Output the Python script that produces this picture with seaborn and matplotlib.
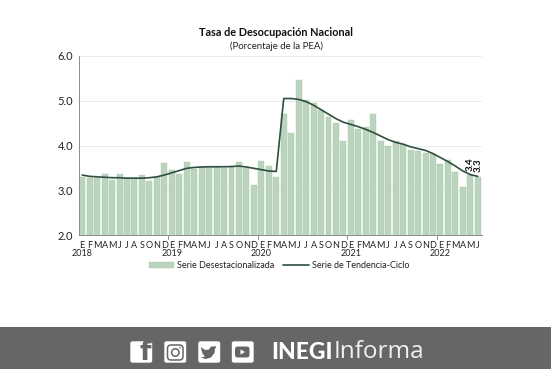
import pandas as pd
import matplotlib
matplotlib.use("Agg")
import matplotlib.pyplot as plt
import seaborn as sns
from matplotlib.patches import Rectangle, FancyBboxPatch, Circle, Polygon

# Values
meses = list("EFMAMJJASOND") * 4 + list("EFMAMJ")
anios = ["2018", "2019", "2020", "2021", "2022"]
serie_desest = [3.29, 3.27, 3.28, 3.37, 3.24, 3.36, 3.28, 3.28, 3.33, 3.20, 3.30, 3.60,
                3.46, 3.36, 3.63, 3.48, 3.52, 3.52, 3.52, 3.49, 3.53, 3.64, 3.50, 3.11,
                3.66, 3.55, 3.29, 4.70, 4.27, 5.46, 5.02, 4.94, 4.80, 4.63, 4.50, 4.10,
                4.57, 4.37, 4.41, 4.70, 4.10, 4.00, 4.09, 4.04, 3.91, 3.88, 3.83, 3.80,
                3.58, 3.68, 3.40, 3.07, 3.34, 3.30]
serie_tend = [3.34, 3.31, 3.30, 3.29, 3.28, 3.28, 3.27, 3.27, 3.27, 3.28, 3.30, 3.34,
              3.39, 3.44, 3.49, 3.51, 3.52, 3.525, 3.525, 3.525, 3.53, 3.54, 3.52, 3.49,
              3.46, 3.43, 3.42, 5.05, 5.05, 5.03, 4.98, 4.90, 4.80, 4.70, 4.60, 4.52,
              4.47, 4.42, 4.36, 4.29, 4.21, 4.13, 4.07, 4.03, 3.97, 3.93, 3.89, 3.82,
              3.73, 3.64, 3.54, 3.43, 3.35, 3.31]
etiquetas_fin = ["3.4", "3.3"]

sns.set_style("white")
plt.rcParams["font.family"] = ["Lato", "DejaVu Sans"]

df = pd.DataFrame({"pos": range(len(meses)), "desest": serie_desest, "tend": serie_tend})

W, H = 551, 369
fig = plt.figure(figsize=(W / 100, H / 100), dpi=100)
ax = fig.add_axes([78.5 / W, 1 - 235 / H, 403 / W, 179 / H])

sns.barplot(data=df, x="pos", y="desest", color="#bbd4bd", saturation=1, width=0.8,
            edgecolor="#a9c7ac", linewidth=0.3, label="Serie Desestacionalizada", ax=ax, zorder=2)
sns.lineplot(data=df, x="pos", y="tend", color="#2f4f3f", linewidth=1.2,
             label="Serie de Tendencia-Ciclo", ax=ax, zorder=3)

ax.set_xlim(-0.5, len(meses) - 0.5)
ax.set_ylim(2, 6)
ax.set_yticks([2, 3, 4, 5, 6])
ax.set_yticklabels(["2.0", "3.0", "4.0", "5.0", "6.0"], fontsize=8, color="#222222")
ax.yaxis.grid(True, color="#ececec", linewidth=0.7, zorder=0)
ax.set_axisbelow(True)
ax.set_xlabel("")
ax.set_ylabel("")
ax.set_xticks(range(len(meses)))
ax.set_xticklabels(meses, fontsize=6.5, color="#222222")
ax.tick_params(axis="x", length=0, pad=4)
ax.tick_params(axis="y", length=0, pad=4)
for s in ["top", "right"]:
    ax.spines[s].set_visible(False)
for s in ["left", "bottom"]:
    ax.spines[s].set_color("#8c8c8c")
    ax.spines[s].set_linewidth(0.7)

trans = ax.get_xaxis_transform()
for i, anio in enumerate(anios):
    ax.text(i * 12, -0.102, anio, transform=trans, fontsize=6.5, ha="center", va="center", color="#222222")
    if i > 0:
        ax.plot([i * 12 - 0.5] * 2, [0, -0.02], transform=trans, color="#8c8c8c", lw=0.7, clip_on=False)

ax.text(52, 3.43, etiquetas_fin[0], rotation=90, fontsize=7, fontweight="bold", ha="center", va="bottom", color="#111111")
ax.text(53, 3.41, etiquetas_fin[1], rotation=90, fontsize=7, fontweight="bold", ha="center", va="bottom", color="#111111")

handles, labels = ax.get_legend_handles_labels()
orden = [labels.index("Serie Desestacionalizada"), labels.index("Serie de Tendencia-Ciclo")]
ax.legend([handles[i] for i in orden], [labels[i] for i in orden], loc="center",
          bbox_to_anchor=(279 / W, 1 - 266 / H), bbox_transform=fig.transFigure, ncol=2,
          frameon=False, fontsize=6.5, handlelength=2.8, handleheight=0.6, columnspacing=1.0,
          handletextpad=0.35, labelcolor="#222222")

fig.text(276 / W, 1 - 32.5 / H, "Tasa de Desocupación Nacional", fontsize=7.8, fontweight="bold", ha="center", va="center", color="#111111")
fig.text(276 / W, 1 - 46 / H, "(Porcentaje de la PEA)", fontsize=6.9, ha="center", va="center", color="#222222")

# footer band, drawn in pixel coords
pie = fig.add_axes([0, 0, 1, 1], zorder=5)
pie.set_xlim(0, W)
pie.set_ylim(H, 0)
pie.axis("off")
pie.patch.set_alpha(0)
gris = "#666666"
pie.add_patch(Rectangle((0, 327), W, 42, color=gris, lw=0))
for x0 in [130, 164, 198, 231.5]:
    pie.add_patch(FancyBboxPatch((x0 + 1, 342), 20.5, 20, boxstyle="round,pad=0,rounding_size=1.5", fc="white", ec="white", lw=1))

pie.text(145.5, 353.5, "f", fontsize=19, fontweight="bold", color=gris, ha="center", va="center", family="DejaVu Sans")
pie.add_patch(FancyBboxPatch((167.5, 345), 15.5, 15, boxstyle="round,pad=0,rounding_size=3.5", fc="none", ec=gris, lw=1.1))
pie.add_patch(Circle((175.3, 352.5), 3.7, fc="none", ec=gris, lw=1.1))
pie.add_patch(Circle((180, 347.7), 0.8, fc=gris, lw=0))
pie.add_patch(Polygon([(201, 347), (205, 350), (209, 349.5), (211, 346.5), (214, 346.5), (216.5, 346), (215, 349),
                       (214.5, 353), (211, 357.5), (205.5, 359), (201, 357.5), (205, 356.5), (202.5, 353.5), (201.5, 350)],
                      fc=gris, lw=0))
pie.add_patch(FancyBboxPatch((235, 346.5), 14.5, 11, boxstyle="round,pad=0,rounding_size=2.5", fc=gris, lw=0))
pie.add_patch(Polygon([(240.5, 349.5), (240.5, 354.5), (245, 352)], fc="white", lw=0))

pie.text(271.5, 352.5, "INEGI", fontsize=16.5, fontweight="black", color="white", ha="left", va="center")
pie.text(333.5, 352.5, "Informa", fontsize=17.5, color="#f0f0f0", ha="left", va="center", family="Open Sans")

plt.savefig("out.png", dpi=100)
